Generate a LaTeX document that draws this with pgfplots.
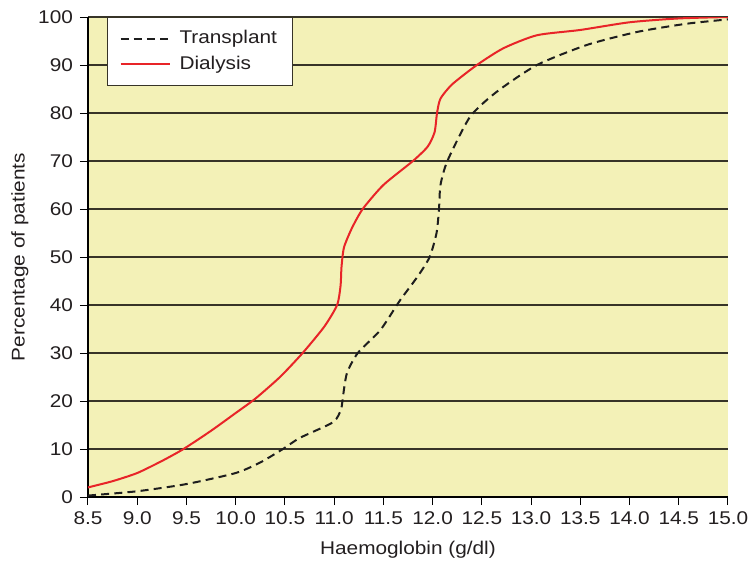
\documentclass[border=0pt]{standalone}
\usepackage{pgfplots}
\pgfplotsset{compat=1.18}
\usepackage{fontspec}
\setmainfont{Liberation Sans}[FakeStretch=1.13]
\definecolor{bgyellow}{RGB}{243,241,183}
\definecolor{redline}{RGB}{232,36,40}
\definecolor{darkline}{RGB}{30,30,30}
\definecolor{gridc}{RGB}{55,52,40}
\definecolor{txt}{RGB}{35,31,32}
\begin{document}
\begin{tikzpicture}
\begin{axis}[
  scale only axis,
  width=320pt, height=240pt,
  xmin=8.5, xmax=15, ymin=0, ymax=100,
  xtick={8.5,9,...,15},
  ytick={0,10,...,100},
  axis lines=left,
  axis line style={-, black, line width=0.6pt},
  tick align=outside,
  major tick length=4pt,
  tick style={black, line width=0.5pt},
  ymajorgrids,
  grid style={gridc, line width=0.6pt},
  axis background/.style={fill=bgyellow},
  /pgf/number format/assume math mode=true,
  ticklabel style={font=\fontsize{9.2}{11}\selectfont, text=txt},
  xticklabel style={inner xsep=0pt, /pgf/number format/.cd, fixed, fixed zerofill, precision=1},
  yticklabel style={/pgf/number format/.cd, fixed},
  label style={font=\fontsize{9.2}{11}\selectfont, text=txt},
  xlabel={Haemoglobin (g/dl)},
  ylabel={Percentage of patients},
  xlabel style={yshift=-1pt},
  ylabel style={yshift=-2pt},
  legend style={at={(0.0297,1)}, anchor=north west, draw=gridc, fill=white,
    line width=0.5pt, font=\fontsize{9.2}{11}\selectfont, text=txt,
    inner xsep=6pt, inner ysep=4.5pt, row sep=0.5pt, column sep=2.5pt,
    cells={anchor=west}},
  legend image code/.code={\draw[#1] (0pt,0pt) -- (24.5pt,0pt);},
]
\addplot[darkline, line width=1pt, dash pattern=on 4pt off 2.6pt, smooth, tension=0.4] coordinates {
(8.5,0.3) (9.0,1.2) (9.5,2.7) (10.0,5.0) (10.25,7.2) (10.48,10) (10.65,12.3)
(10.99,15.6) (11.07,18.3) (11.09,21) (11.13,25.8) (11.24,30) (11.47,34.8)
(11.67,41) (11.85,46) (11.97,50) (12.04,55) (12.065,60) (12.08,65) (12.15,70)
(12.38,79.2) (12.65,84.4) (13.06,90) (13.57,94.2) (14.08,96.9) (14.58,98.6) (15.0,99.5)
};
\addlegendentry{Transplant}
\addplot[redline, line width=1pt, smooth, tension=0.4] coordinates {
(8.5,2.0) (8.75,3.3) (9.0,5.0) (9.25,7.5) (9.47,10) (9.75,13.8) (10.0,17.5)
(10.2,20.5) (10.45,25) (10.68,30) (10.9,35.5) (11.03,40) (11.065,44) (11.075,48)
(11.1,52) (11.18,56) (11.29,60) (11.5,65) (11.8,70) (11.95,73) (12.02,76)
(12.045,80) (12.08,83) (12.2,86) (12.45,90) (12.72,93.5) (13.06,96.2)
(13.5,97.3) (14.0,98.9) (14.5,99.7) (15.0,100)
};
\addlegendentry{Dialysis}
\end{axis}
\path (-44pt,-32.5pt) rectangle (331pt,248.5pt);
\end{tikzpicture}
\end{document}
